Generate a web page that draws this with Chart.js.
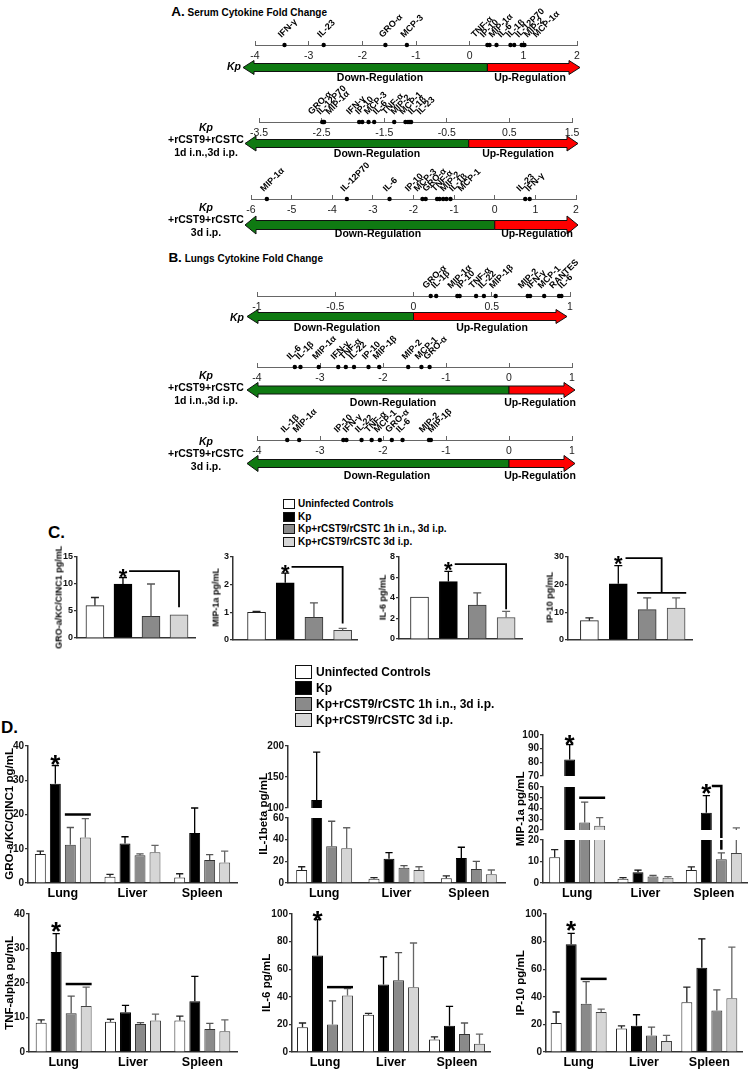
<!DOCTYPE html>
<html><head><meta charset="utf-8">
<script src="https://cdn.jsdelivr.net/npm/chart.js@4.4.1/dist/chart.umd.min.js"></script>
<style>
html,body{margin:0;padding:0;background:#fff;}
body{width:748px;height:1069px;position:relative;overflow:hidden;font-family:"Liberation Sans",Arial,sans-serif;color:#000;}
canvas{position:absolute;}
.t{position:absolute;white-space:nowrap;font-weight:bold;}
.yt{position:absolute;white-space:nowrap;font-weight:bold;text-align:center;transform:rotate(-90deg);}
.lb{position:absolute;border:1px solid #111;box-sizing:border-box;}
</style></head><body>
<script>
// ---------------- DATA ----------------
// A. Serum cytokine fold change
const serumKpNames  = ['IFN-γ','IL-23','GRO-α','MCP-3','TNF-α','IP-10','MIP-1α','IL-6','IL-1β','IL-12P70','MIP-2','MCP-1α'];
const serumKpValues = [-3.45,-2.72,-1.57,-1.17,0.33,0.37,0.50,0.76,0.83,0.97,1.00,1.02];
const serumKpTicks  = [-4,-3,-2,-1,0,1,2];
const serum1dNames  = ['GRO-α','IL-12P70','MIP-1α','IFN-γ','IP-10','MCP-3','IL-6','TNF-α','MIP-2','MCP-1','IL-1β','IL-23'];
const serum1dValues = [-2.49,-2.47,-2.46,-1.90,-1.85,-1.75,-1.66,-1.34,-1.16,-1.12,-1.09,-1.07];
const serum1dTicks  = [-3.5,-2.5,-1.5,-0.5,0.5,1.5];
const serum3dNames  = ['MIP-1α','IL-12P70','IL-6','IP-10','MCP-3','GRO-α','TNF-α','MIP-2','IL-1β','MCP-1','IL-23','IFN-γ'];
const serum3dValues = [-5.61,-3.64,-2.59,-1.78,-1.70,-1.42,-1.36,-1.27,-1.19,-1.09,0.75,0.86];
const serum3dTicks  = [-6,-5,-4,-3,-2,-1,0,1,2];
// B. Lungs cytokine fold change
const lungKpNames  = ['GRO-α','IL-1β','MIP-1α','IP-10','TNF-α','IL-22','MIP-1β','MIP-2','IFN-γ','MCP-1','RANTES','IL-6'];
const lungKpValues = [0.11,0.145,0.28,0.295,0.40,0.45,0.525,0.73,0.745,0.835,0.93,0.945];
const lungKpTicks  = [-1,-0.5,0,0.5,1];
const lung1dNames  = ['IL-6','IL-1β','MIP-1α','IFN-γ','TNF-α','IL-22','IP-10','MIP-1β','MIP-2','MCP-1','GRO-α'];
const lung1dValues = [-3.40,-3.31,-3.02,-2.71,-2.59,-2.46,-2.23,-2.06,-1.60,-1.39,-1.26];
const lung1dTicks  = [-4,-3,-2,-1,0,1];
const lung3dNames  = ['IL-1β','MIP-1α','IP-10','IFN-γ','IL-22','TNF-α','MCP-1','GRO-α','IL-6','MIP-2','MIP-1β'];
const lung3dValues = [-3.52,-3.33,-2.63,-2.58,-2.34,-2.18,-2.05,-1.86,-1.69,-1.27,-1.24];
const lung3dTicks  = [-4,-3,-2,-1,0,1];
const foldSplits   = [0.33,-0.15,0,0,0,0];   // green/red boundary on each arrow

// Groups
const groupNames = ['Uninfected Controls','Kp','Kp+rCST9/rCSTC 1h i.n., 3d i.p.','Kp+rCST9/rCSTC 3d i.p.'];

// C. Serum (4 groups)
const cGroMean  = [6.0,10.0,4.0,4.3];   const cGroErr  = [1.5,1.2,6.0,0];
const cMipMean  = [1.0,2.07,0.82,0.35]; const cMipErr  = [0.03,0.35,0.52,0.07];
const cIl6Mean  = [4.1,5.6,3.3,2.1];    const cIl6Err  = [0,1.0,1.2,0.6];
const cIp10Mean = [7.0,20.3,11.0,11.5]; const cIp10Err = [1.0,6.6,4.2,3.7];
const cGroTicks = [0,5,10,15]; const cMipTicks = [0,1,2,3]; const cIl6Ticks = [0,2,4,6,8]; const cIp10Ticks = [0,10,20,30];

// D. Organs
const organs = ['Lung','Liver','Spleen'];
// rows: Uninfected, Kp, 1h i.n.+3d i.p., 3d i.p. ; columns: Lung, Liver, Spleen
const dGroMean  = [[8.5,1.8,1.6],[29,11.5,14.6],[11.2,8.1,6.7],[13.3,9.0,6.0]];
const dGroErr   = [[0.8,0.7,1.1],[5.3,2.0,7.3],[5.0,0.4,1.6],[5.5,2.0,3.3]];
const dIl1bMean = [[12,4,4.5],[113,22.5,23],[34,14,13],[32,12,8]];
const dIl1bErr  = [[3,1,2],[77,5.5,10],[23,2,7],[19,3,4]];
const dMipMean  = [[12,2,6],[82,5,36],[27,3,11],[24,2.5,14]];
const dMipErr   = [[3.5,0.5,1.5],[11,1,16],[19,0.5,3],[7.5,0.5,8]];
const dTnfMean  = [[8.5,8.8,9.1],[29,11.5,14.7],[11.2,8.1,6.7],[13.3,9.1,6.0]];
const dTnfErr   = [[0.8,0.7,1.3],[5.3,2.0,7.2],[5.0,0.4,1.6],[5.5,1.9,3.3]];
const dIl6Mean  = [[18,27,9],[70,49,19],[20,52,13],[41,47,6]];
const dIl6Err   = [[3,1,2],[26,20,14],[17,20,8],[5,32,7]];
const dIp10Mean = [[21,17,36],[78,19,61],[35,12,30],[29,8,39]];
const dIp10Err  = [[8,2,11],[8,8,21],[16,6,15],[2,4,37]];
const dGroTicks = [0,10,20,30,40];
const dIl1bTicksHi = [100,150,200]; const dIl1bTicksLo = [0,20,40,60];
const dMipTicksTop = [70,80,90,100]; const dMipTicksMid = [20,30,40,50,60]; const dMipTicksLow = [0,10,20];
const dIl6Ticks = [0,20,40,60,80,100]; const dIp10Ticks = [0,20,40,60,80,100];

// ---------------- HELPERS ----------------
const FF = '"Liberation Sans", Arial, sans-serif';
Chart.defaults.font.family = FF;
const COLORS = [
  {bg:'#ffffff', bd:'#222', err:'#222'},
  {bg:'#000000', bd:'#000', err:'#000'},
  {bg:'#8a8a8a', bd:'#333', err:'#555'},
  {bg:'#d6d6d6', bd:'#444', err:'#666'}
];
function mk(l,t,w,h){const c=document.createElement('canvas');c.width=w;c.height=h;c.style.left=l+'px';c.style.top=t+'px';c.style.width=w+'px';c.style.height=h+'px';document.body.appendChild(c);return c;}
function txt(s,x,y,size,align,style){const d=document.createElement('div');d.className='t';d.textContent=s;const lh=size*1.2;
  let css=`top:${y-lh/2}px;height:${lh}px;line-height:${lh}px;font-size:${size}px;`;
  if(align==='center')css+=`left:${x-200}px;width:400px;text-align:center;`;else if(align==='right')css+=`right:${748-x}px;text-align:right;`;else css+=`left:${x}px;`;
  d.style.cssText=css+(style||'');document.body.appendChild(d);return d;}
function yTitle(s,cx,cy,size){const len=200,h=size*1.2;const d=document.createElement('div');d.className='yt';d.textContent=s;
  d.style.cssText=`left:${cx-len/2}px;top:${cy-h/2}px;width:${len}px;height:${h}px;line-height:${h}px;font-size:${size}px;`;document.body.appendChild(d);}

// fold-change rows
const foldPlugin = {
  id:'fold',
  afterDraw(chart){
    const ds=chart.data.datasets[0]; const row=ds.row; if(!row)return;
    const ctx=chart.ctx, xs=chart.scales.x, ay=chart.chartArea.bottom;
    const cy=ay+row.dy, hb=row.body/2, hh=row.head/2, hl=11;
    const L=xs.left+row.tipL, R=xs.right+row.tipR, LB=L+hl, RB=R-hl, M=xs.getPixelForValue(row.split);
    ctx.save(); ctx.lineWidth=1; ctx.strokeStyle='#111'; ctx.lineJoin='miter';
    ctx.beginPath(); ctx.moveTo(L,cy); ctx.lineTo(LB,cy-hh); ctx.lineTo(LB,cy-hb); ctx.lineTo(M,cy-hb); ctx.lineTo(M,cy+hb); ctx.lineTo(LB,cy+hb); ctx.lineTo(LB,cy+hh); ctx.closePath();
    ctx.fillStyle='#0f7a12'; ctx.fill(); ctx.stroke();
    ctx.beginPath(); ctx.moveTo(R,cy); ctx.lineTo(RB,cy-hh); ctx.lineTo(RB,cy-hb); ctx.lineTo(M,cy-hb); ctx.lineTo(M,cy+hb); ctx.lineTo(RB,cy+hb); ctx.lineTo(RB,cy+hh); ctx.closePath();
    ctx.fillStyle='#ff0000'; ctx.fill(); ctx.stroke();
    // labels
    const px=row.values.map(v=>xs.getPixelForValue(v));
    const p=px.slice(); const gap=8.8;
    for(let it=0;it<300;it++){let moved=false;for(let i=1;i<p.length;i++){const d=p[i]-p[i-1];if(d<gap-0.01){const s=(gap-d)/2;p[i-1]-=s;p[i]+=s;moved=true;}}if(!moved)break;}
    ctx.fillStyle='#000'; ctx.font='bold 9px '+FF; ctx.textAlign='left'; ctx.textBaseline='alphabetic';
    row.names.forEach((n,i)=>{ctx.save();ctx.translate(p[i]-3,ay-7);ctx.rotate(-Math.PI/4);ctx.fillText(n,0,0);ctx.restore();});
    ctx.restore();
  }
};
function foldChart(row){
  const cl=150, cr=615, padT=51, xH=18, padB=28;
  const c=mk(cl,row.axisY-4-padT,cr-cl,padT+4+xH+padB);
  return new Chart(c,{type:'scatter',
    data:{datasets:[{data:row.values.map(v=>({x:v,y:0})),row:row,pointRadius:2.2,pointBackgroundColor:'#000',pointBorderWidth:0,clip:false}]},
    options:{responsive:false,animation:false,events:[],
      layout:{padding:{left:row.axisL-cl,right:cr-row.axisR,top:padT,bottom:padB}},
      plugins:{legend:{display:false},tooltip:{enabled:false}},
      scales:{
        x:{type:'linear',min:row.ticks[0],max:row.ticks[row.ticks.length-1],
          afterBuildTicks:s=>{s.ticks=row.ticks.map(v=>({value:v}));},
          afterFit:s=>{s.height=xH;},
          grid:{display:true,drawOnChartArea:true,drawTicks:false,color:'#666',lineWidth:1},
          border:{display:true,color:'#666',width:1},
          ticks:{padding:5,autoSkip:false,maxRotation:0,color:'#222',font:{size:10.5},callback:v=>String(v)}},
        y:{display:false,min:0,max:1}
      }},
    plugins:[foldPlugin]});
}

// error bars
const errPlugin={id:'errbars',afterDatasetsDraw(chart){
  const ctx=chart.ctx, ys=chart.scales.y, a=chart.chartArea;
  ctx.save(); ctx.beginPath(); ctx.rect(a.left-6,a.top,a.right-a.left+12,a.bottom-a.top); ctx.clip();
  chart.data.datasets.forEach((ds,di)=>{ if(!ds.errors)return; const meta=chart.getDatasetMeta(di);
    meta.data.forEach((bar,i)=>{ const e=ds.errors[i]; if(!e)return; const raw=ds.data[i]; const v=(typeof raw==='object')?raw.y:raw;
      const y0=ys.getPixelForValue(v), y1=ys.getPixelForValue(v+e); const cw=Math.min(bar.width*0.33,4);
      const ec=Array.isArray(ds.errColor)?ds.errColor[i]:ds.errColor;
      ctx.strokeStyle=ec||'#222'; ctx.lineWidth=1.3; ctx.beginPath(); ctx.moveTo(bar.x,y0); ctx.lineTo(bar.x,y1); ctx.moveTo(bar.x-cw,y1); ctx.lineTo(bar.x+cw,y1); ctx.stroke(); });
  });
  ctx.restore(); }};

// significance marks (star, line, bracket)
function sigPlugin(items,starSize){return {id:'sig',afterDraw(chart){
  const ctx=chart.ctx, xs=chart.scales.x, ys=chart.scales.y;
  const X=(ref,side)=>{ if(typeof ref==='number')return xs.getPixelForValue(ref);
    const b=chart.getDatasetMeta(ref[0]).data[ref[1]]; const s=side||'c'; return s==='l'?b.x-b.width/2:s==='r'?b.x+b.width/2:b.x; };
  ctx.save(); ctx.strokeStyle='#000'; ctx.fillStyle='#000'; ctx.lineCap='butt';
  items.forEach(it=>{
    if(it.kind==='star'){const x=X(it.at,'c'), y=ys.getPixelForValue(it.y); ctx.font='bold '+starSize+'px '+FF; ctx.textAlign='center'; ctx.textBaseline='alphabetic'; ctx.fillText('*',x,y+0.58*starSize);}
    else if(it.kind==='line'){const y=ys.getPixelForValue(it.y); ctx.lineWidth=it.w||2; ctx.beginPath(); ctx.moveTo(X(it.from,it.fs||'l'),y); ctx.lineTo(X(it.to,it.ts||'r'),y); ctx.stroke();}
    else if(it.kind==='bracket'){const y=ys.getPixelForValue(it.y), yd=ys.getPixelForValue(it.drop), x1=X(it.from,it.fs||'r'), x2=X(it.to,it.ts||'c'); ctx.lineWidth=it.w||2; ctx.beginPath(); ctx.moveTo(x1,y); ctx.lineTo(x2,y); ctx.lineTo(x2,yd); ctx.stroke();}
    else if(it.kind==='vline'){const x=X(it.at,it.s||'c'); ctx.lineWidth=it.w||2; ctx.beginPath(); ctx.moveTo(x,ys.getPixelForValue(it.y1)); ctx.lineTo(x,ys.getPixelForValue(it.y2)); ctx.stroke();}
  });
  ctx.restore(); }};}

function barChart(o){
  const [l,t,r,b]=o.area; const yW=o.yW, xH=o.xH||0, padT=o.padT||8, padR=o.padR||4, padB=(o.padB!==undefined)?o.padB:8;
  const c=mk(l-yW,t-padT,yW+(r-l)+padR,padT+(b-t)+xH+padB);
  return new Chart(c,{type:'bar',data:{labels:o.labels,datasets:o.datasets},
    options:{responsive:false,animation:false,events:[],
      layout:{padding:{left:0,right:padR,top:padT,bottom:padB}},
      plugins:{legend:{display:false},tooltip:{enabled:false}},
      scales:{x:o.x,
        y:{min:o.yTicks[0],max:o.yTicks[o.yTicks.length-1],
          afterBuildTicks:s=>{s.ticks=o.yTicks.map(v=>({value:v}));},
          afterFit:s=>{s.width=yW;},
          grid:{display:true,drawOnChartArea:false,drawTicks:true,tickLength:3,color:'#333',lineWidth:1.2},
          border:{display:true,color:'#333',width:1.5},
          ticks:{autoSkip:false,font:{size:o.tickSize,weight:'bold'},color:'#111',padding:1}}}},
    plugins:[errPlugin,sigPlugin(o.sig||[],o.starSize||24)]});
}
function catX(show,xH){return {type:'category',display:show,offset:true,grid:{display:false,drawTicks:false},border:{display:true,color:'#333',width:1.5},
  ticks:{display:true,autoSkip:false,maxRotation:0,font:{size:12.5,weight:'bold'},color:'#000',padding:3},afterFit:s=>{s.height=xH;}};}
function linX(min,max){return {type:'linear',min:min,max:max,offset:false,grid:{display:false,drawTicks:false,offset:false},border:{display:true,color:'#333',width:1.5},ticks:{display:false},afterFit:s=>{s.height=0;}};}
function dSets(means,errs,width){const step=width/3, cp=60/step;
  return means.map((m,k)=>({label:groupNames[k],data:m,errors:errs[k],backgroundColor:COLORS[k].bg,borderColor:COLORS[k].bd,errColor:COLORS[k].err,borderWidth:1,categoryPercentage:cp,barPercentage:0.73,clip:0}));}
function cSet(means,errs){return [{label:'serum',data:means.map((v,i)=>({x:i,y:v})),errors:errs,backgroundColor:COLORS.map(c=>c.bg),borderColor:COLORS.map(c=>c.bd),errColor:COLORS.map(c=>c.err),borderWidth:1,barThickness:18,clip:0}];}

// ---------------- SECTION A / B ----------------
const tA=txt('',327,12,13.5,'right'); tA.innerHTML='A.<span style="font-size:10px"> Serum Cytokine Fold Change</span>';
const tB=txt('',323,258,13.5,'right'); tB.innerHTML='B.<span style="font-size:10px"> Lungs Cytokine Fold Change</span>';
const foldRows=[
  {names:serumKpNames,values:serumKpValues,ticks:serumKpTicks,split:foldSplits[0],axisL:255,axisR:577,axisY:45,dy:22.5,tipL:-12,tipR:3,body:8,head:14},
  {names:serum1dNames,values:serum1dValues,ticks:serum1dTicks,split:foldSplits[1],axisL:259,axisR:572,axisY:122,dy:21.5,tipL:-14,tipR:6,body:8,head:15},
  {names:serum3dNames,values:serum3dValues,ticks:serum3dTicks,split:foldSplits[2],axisL:251,axisR:576,axisY:199,dy:26,tipL:-6,tipR:2,body:9,head:18},
  {names:lungKpNames,values:lungKpValues,ticks:lungKpTicks,split:foldSplits[3],axisL:257,axisR:570,axisY:296,dy:20.5,tipL:-10,tipR:-3,body:8,head:14},
  {names:lung1dNames,values:lung1dValues,ticks:lung1dTicks,split:foldSplits[4],axisL:257,axisR:572,axisY:367,dy:23,tipL:-10,tipR:3,body:8,head:15},
  {names:lung3dNames,values:lung3dValues,ticks:lung3dTicks,split:foldSplits[5],axisL:257,axisR:572,axisY:440,dy:23.5,tipL:-10,tipR:3,body:8,head:16}
];
foldRows.forEach(foldChart);
const regPos=[[380,530,77],[377,518,153],[378,537,233],[337,492,327],[393,540,402],[387,540,475]];
regPos.forEach(r=>{txt('Down-Regulation',r[0],r[2],10.5,'center');txt('Up-Regulation',r[1],r[2],10.5,'center');});
txt('Kp',241,66,10.5,'right','font-style:italic;');
txt('Kp',244,317,10.5,'right','font-style:italic;');
[[127,'1d i.n.,3d i.p.'],[207,'3d i.p.'],[375,'1d i.n.,3d i.p.'],[441,'3d i.p.']].forEach(([y,s])=>{
  txt('Kp',206,y,10.5,'center','font-style:italic;'); txt('+rCST9+rCSTC',206,y+12.5,10.5,'center'); txt(s,206,y+25,10.5,'center');});

// ---------------- SECTION C ----------------
txt('C.',48,533,17,'left');
groupNames.forEach((g,k)=>{const y=504+k*12.5; const b=document.createElement('div'); b.className='lb';
  b.style.cssText=`left:283px;top:${y-5}px;width:12px;height:10px;background:${COLORS[k].bg};`; document.body.appendChild(b); txt(g,298,y,10,'left');});
barChart({area:[77,557,195,638],yW:16,yTicks:cGroTicks,tickSize:9,datasets:cSet(cGroMean,cGroErr),x:linX(-0.64,3.57),starSize:22,
  sig:[{kind:'star',at:1,y:12.4},{kind:'bracket',from:1.22,to:3,y:12.4,drop:5.7,w:1.8}]});
barChart({area:[233,557,357,640],yW:16,yTicks:cMipTicks,tickSize:9,datasets:cSet(cMipMean,cMipErr),x:linX(-0.82,3.5),starSize:22,
  sig:[{kind:'star',at:1,y:2.64},{kind:'bracket',from:1.22,to:3,y:2.64,drop:0.6,w:1.8}]});
barChart({area:[399,557,522,639],yW:16,yTicks:cIl6Ticks,tickSize:9,datasets:cSet(cIl6Mean,cIl6Err),x:linX(-0.71,3.55),starSize:22,
  sig:[{kind:'star',at:1,y:7.3},{kind:'bracket',from:1.22,to:3,y:7.3,drop:2.9,w:1.8}]});
barChart({area:[568,557,692,640],yW:18,yTicks:cIp10Ticks,tickSize:9,datasets:cSet(cIp10Mean,cIp10Err),x:linX(-0.74,3.55),starSize:22,
  sig:[{kind:'star',at:1,y:29.6},{kind:'bracket',from:1.25,to:2.5,y:29.6,drop:17,w:1.8},{kind:'line',from:1.65,to:3.35,y:17,w:1.8}]});
yTitle('GRO-a/KC/CINC1 pg/mL',59,597,9); yTitle('MIP-1a pg/mL',216,597,9); yTitle('IL-6 pg/mL',383,597,9); yTitle('IP-10 pg/mL',550,597,9);

// ---------------- SECTION D ----------------
txt('D.',1,728,17,'left');
groupNames.forEach((g,k)=>{const y=672+k*16; const b=document.createElement('div'); b.className='lb';
  b.style.cssText=`left:295px;top:${y-7}px;width:17px;height:14px;background:${COLORS[k].bg};`; document.body.appendChild(b); txt(g,316,y,12,'left');});
// GRO
barChart({area:[28,746,237,883],yW:22,xH:22,yTicks:dGroTicks,tickSize:10,labels:organs,datasets:dSets(dGroMean,dGroErr,209),x:catX(true,22),starSize:26,
  sig:[{kind:'star',at:[1,0],y:36.4},{kind:'line',from:[2,0],to:[3,0],y:20,w:2.5}]});
// IL-1beta (broken axis)
barChart({area:[288,746,505,808],yW:26,yTicks:dIl1bTicksHi,tickSize:10,labels:organs,datasets:dSets(dIl1bMean,dIl1bErr,217),x:catX(false,0)});
barChart({area:[288,818,505,883],yW:26,xH:22,yTicks:dIl1bTicksLo,tickSize:10,labels:organs,datasets:dSets(dIl1bMean,dIl1bErr,217),x:catX(true,22)});
// MIP-1a (broken axis)
barChart({area:[543,735,748,776],yW:26,yTicks:dMipTicksTop,tickSize:10,labels:organs,datasets:dSets(dMipMean,dMipErr,205),x:catX(false,0),starSize:26,
  sig:[{kind:'star',at:[1,0],y:98}]});
barChart({area:[543,787,748,830],yW:26,yTicks:dMipTicksMid,tickSize:10,labels:organs,datasets:dSets(dMipMean,dMipErr,205),x:catX(false,0),starSize:26,
  sig:[{kind:'line',from:[2,0],to:[3,0],y:50,w:2.5},{kind:'star',at:[1,2],y:60},{kind:'bracket',from:[1,2],fs:'r',to:[2,2],ts:'c',y:61,drop:9.5,w:2.5}]});
barChart({area:[543,840,748,883],yW:26,xH:22,yTicks:dMipTicksLow,tickSize:10,labels:organs,datasets:dSets(dMipMean,dMipErr,205),x:catX(true,22),
  sig:[{kind:'vline',at:[2,2],y1:20,y2:15.5,w:2.5}]});
// TNF
barChart({area:[29,914,237,1052],yW:22,xH:17,padB:0,yTicks:dGroTicks,tickSize:10,labels:organs,datasets:dSets(dTnfMean,dTnfErr,208),x:catX(true,17),starSize:26,
  sig:[{kind:'star',at:[1,0],y:36.8},{kind:'line',from:[2,0],to:[3,0],y:19.7,w:2.5}]});
// IL-6
barChart({area:[292,914,490,1052],yW:26,xH:17,padB:0,yTicks:dIl6Ticks,tickSize:10,labels:organs,datasets:dSets(dIl6Mean,dIl6Err,198),x:catX(true,17),starSize:26,
  sig:[{kind:'star',at:[1,0],y:100},{kind:'line',from:[2,0],to:[3,0],y:47,w:2.5}]});
// IP-10
barChart({area:[546,914,742,1052],yW:26,xH:17,padB:0,yTicks:dIp10Ticks,tickSize:10,labels:organs,datasets:dSets(dIp10Mean,dIp10Err,196),x:catX(true,17),starSize:26,
  sig:[{kind:'star',at:[1,0],y:93},{kind:'line',from:[2,0],to:[3,0],y:53,w:2.5}]});
yTitle('GRO-a/KC/CINC1 pg/mL',10,814,11.5); yTitle('TNF-alpha pg/mL',10,983,11.5);
yTitle('IL-1beta pg/mL',264,814,11.5); yTitle('IL-6 pg/mL',267,983,11.5);
yTitle('MIP-1a pg/mL',521,809,11.5); yTitle('IP-10 pg/mL',521,983,11.5);
</script>
</body></html>
